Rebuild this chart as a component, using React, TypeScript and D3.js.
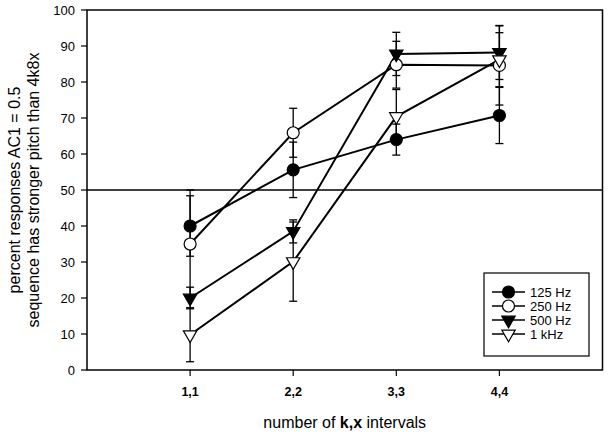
import React from 'react';
import * as d3 from 'd3';

// x categories (k,x intervals)
const categories = ['1,1', '2,2', '3,3', '4,4'];
const xValues = [1, 2, 3, 4];
const yTicks = [0, 10, 20, 30, 40, 50, 60, 70, 80, 90, 100];

// series means and error (± one bar)
const names = ['125 Hz', '250 Hz', '500 Hz', '1 kHz'];
const hz125 = [40, 55.6, 64, 70.7];
const err125 = [8.4, 7.7, 4.3, 7.8];
const hz250 = [35, 65.9, 84.8, 84.6];
const err250 = [15, 6.8, 6.5, 11];
const hz500 = [20, 38.5, 87.8, 88.2];
const err500 = [3, 3.2, 6, 7.5];
const khz1 = [9.8, 30.1, 70.4, 86.2];
const err1k = [7.5, 11, 7.5, 7.5];

const series = [
  { name: names[0], values: hz125, errors: err125, shape: 'circle', filled: true },
  { name: names[1], values: hz250, errors: err250, shape: 'circle', filled: false },
  { name: names[2], values: hz500, errors: err500, shape: 'tri', filled: true },
  { name: names[3], values: khz1, errors: err1k, shape: 'tri', filled: false },
];

const W = 608;
const H = 432;
const margin = { top: 10, right: 5, bottom: 62, left: 87 };
const font = '"Liberation Sans", Arial, sans-serif';

function Marker({ shape, filled, x, y }) {
  const fill = filled ? '#000' : '#fff';
  if (shape === 'circle') {
    return <circle cx={x} cy={y} r={6} fill={fill} stroke="#000" strokeWidth={1.2} />;
  }
  const path = d3.symbol().type(d3.symbolTriangle).size(78)();
  return (
    <path
      d={path}
      transform={`translate(${x},${y}) rotate(180)`}
      fill={fill}
      stroke="#000"
      strokeWidth={1.2}
    />
  );
}

export default function App() {
  const x = d3.scaleLinear().domain([0, 5]).range([margin.left, W - margin.right - 0.5]);
  const y = d3.scaleLinear().domain([0, 100]).range([H - margin.bottom, margin.top]);

  const line = d3
    .line<number>()
    .x((d, i) => x(xValues[i]))
    .y((d) => y(d));

  const legendX = 484;
  const legendY = 273;
  const rowH = 14;

  return (
    <svg
      width={W}
      height={H}
      style={{ position: 'absolute', left: 0, top: 0, background: '#fff' }}
      fontFamily={font}
    >
      {/* frame */}
      <rect
        x={x(0)}
        y={y(100)}
        width={x(5) - x(0)}
        height={y(0) - y(100)}
        fill="none"
        stroke="#000"
        strokeWidth={1.5}
      />
      {/* 50% reference line */}
      <line x1={x(0)} x2={x(5)} y1={y(50)} y2={y(50)} stroke="#000" strokeWidth={1.5} />

      {/* y axis */}
      {yTicks.map((t) => (
        <g key={t}>
          <line x1={x(0) - 6} x2={x(0)} y1={y(t)} y2={y(t)} stroke="#000" strokeWidth={1.2} />
          <text x={x(0) - 12} y={y(t)} dy="0.35em" textAnchor="end" fontSize={13}>
            {t}
          </text>
        </g>
      ))}

      {/* x axis */}
      {categories.map((c, i) => (
        <g key={c}>
          <line x1={x(xValues[i])} x2={x(xValues[i])} y1={y(0)} y2={y(0) + 6} stroke="#000" strokeWidth={1.2} />
          <text x={x(xValues[i])} y={y(0) + 22} dy="0.35em" textAnchor="middle" fontSize={12.5} fontWeight="bold">
            {c}
          </text>
        </g>
      ))}

      <text x={(x(0) + x(5)) / 2} y={428} textAnchor="middle" fontSize={16}>
        number of <tspan fontWeight="bold">k,x</tspan> intervals
      </text>

      <g transform={`translate(20, ${y(50)}) rotate(-90)`}>
        <text x={0} y={0} textAnchor="middle" fontSize={16}>
          percent responses AC1 = 0.5
        </text>
        <text x={0} y={18.5} textAnchor="middle" fontSize={16}>
          sequence has stronger pitch than 4k8x
        </text>
      </g>

      {/* error bars */}
      {series.map((s) =>
        s.values.map((v, i) => {
          const cx = x(xValues[i]);
          const hi = y(v + s.errors[i]);
          const lo = y(v - s.errors[i]);
          return (
            <g key={s.name + i} stroke="#000" strokeWidth={1.3}>
              <line x1={cx} x2={cx} y1={hi} y2={lo} />
              <line x1={cx - 4} x2={cx + 4} y1={hi} y2={hi} />
              <line x1={cx - 4} x2={cx + 4} y1={lo} y2={lo} />
            </g>
          );
        })
      )}

      {/* lines */}
      {series.map((s) => (
        <path key={s.name} d={line(s.values) || ''} fill="none" stroke="#000" strokeWidth={2} />
      ))}

      {/* markers */}
      {series.map((s) =>
        s.values.map((v, i) => (
          <Marker key={s.name + i} shape={s.shape} filled={s.filled} x={x(xValues[i])} y={y(v)} />
        ))
      )}

      {/* legend */}
      <rect x={legendX} y={legendY} width={105} height={83} fill="#fff" stroke="#000" strokeWidth={1.2} />
      {series.map((s, i) => {
        const ly = legendY + 19 + i * rowH;
        return (
          <g key={s.name}>
            <line x1={legendX + 8} x2={legendX + 41} y1={ly} y2={ly} stroke="#000" strokeWidth={1.5} />
            <Marker shape={s.shape} filled={s.filled} x={legendX + 24.5} y={ly} />
            <text x={legendX + 46} y={ly} dy="0.35em" fontSize={13}>
              {s.name}
            </text>
          </g>
        );
      })}
    </svg>
  );
}
